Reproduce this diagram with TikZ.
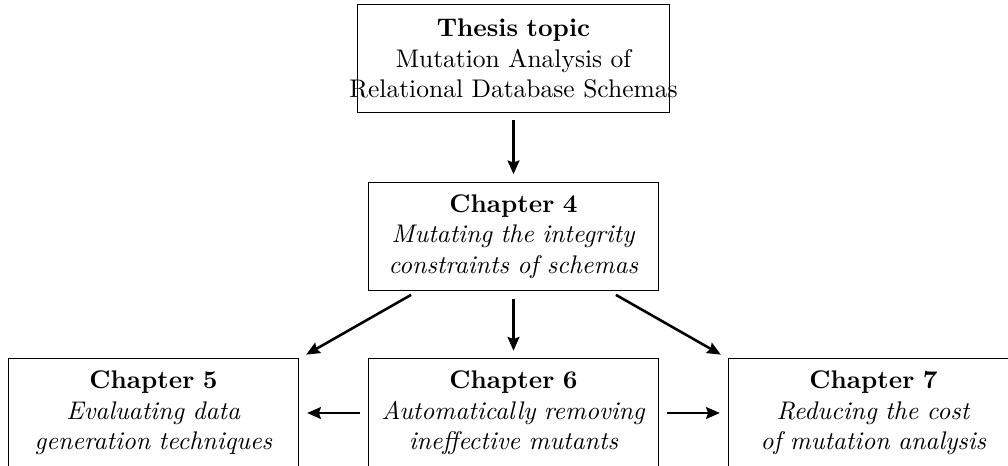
\documentclass[tikz,border=0pt]{standalone}
\usetikzlibrary{arrows.meta}

% thesis structure: topic -> chapter 4 -> chapters 5, 6, 7
\tikzset{
  chapbox/.style={draw, line width=0.4pt, rectangle, inner sep=0pt,
    minimum width=114.1pt, minimum height=42.4pt,
    text width=108pt, align=center, font=\normalsize},
  topicbox/.style={chapbox, minimum width=122pt, minimum height=42pt,
    text width=116pt},
  flow/.style={line width=1pt, -{Stealth[length=5.4pt,width=4.6pt,inset=0.8pt]},
    shorten >=3pt, shorten <=3pt},
}

\begin{document}
\begin{tikzpicture}[x=0.3922pt, y=-0.3922pt]
  \useasboundingbox (0,0) rectangle (1008,466);
  \clip (0,0) rectangle (1008,466);

  \node[topicbox] (topic) at (513.5,58.5)
    {\textbf{Thesis topic}\\ Mutation Analysis of\\
     \makebox[0pt][c]{Relational Database Schemas}};

  \node[chapbox] (ch4) at (513.5,236.5)
    {\textbf{Chapter 4}\\ \textit{Mutating the integrity}\\
     \textit{constraints of schemas}};

  \node[chapbox] (ch5) at (153.5,413)
    {\textbf{Chapter 5}\\ \textit{Evaluating data}\\
     \textit{generation techniques}};

  \node[chapbox] (ch6) at (513.5,413)
    {\textbf{Chapter 6}\\ \textit{Automatically removing}\\
     \textit{ineffective mutants}};

  \node[chapbox] (ch7) at (873.5,413)
    {\textbf{Chapter 7}\\ \textit{Reducing the cost}\\
     \textit{of mutation analysis}};

  \draw[flow] (topic) -- (ch4);
  \draw[flow] (ch4) -- (ch6);
  \draw[flow] (ch4) -- (ch5.north east);
  \draw[flow] (ch4) -- (ch7.north west);
  \draw[flow] (ch6) -- (ch5);
  \draw[flow] (ch6) -- (ch7);
\end{tikzpicture}
\end{document}
